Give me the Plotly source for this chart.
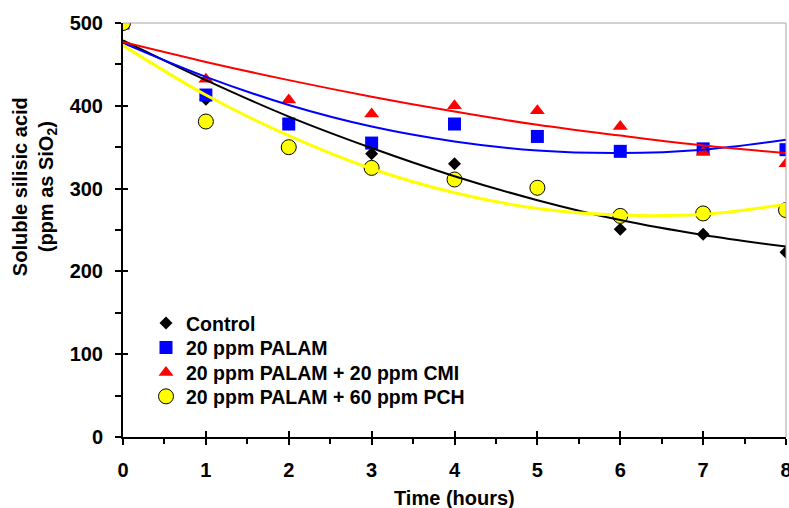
import plotly.graph_objects as go

# Sampling times (hours)
time_h = [0, 1, 2, 3, 4, 5, 6, 7, 8]

# Measured soluble silicic acid (ppm as SiO2)
control = [500, 408, 378, 342, 330, 300, 251, 245, 223]
palam = [500, 413, 378, 355, 378, 363, 345, 348, 347]
palam_cmi = [500, 432, 407, 390, 400, 394, 375, 344, 330]
palam_pch = [500, 381, 350, 325, 311, 301, 267, 270, 274]

# Trend lines at each hour
control_fit = [479, 431, 387, 349, 315, 286, 262, 244, 230]
palam_fit = [476, 435, 401, 375, 357, 346, 343, 347, 359]
palam_cmi_fit = [477, 453, 431, 411, 393, 377, 364, 352, 343]
palam_pch_fit = [473, 413, 364, 324, 295, 276, 268, 269, 281]

x_ticks = [0, 1, 2, 3, 4, 5, 6, 7, 8]
y_ticks = [0, 100, 200, 300, 400, 500]

FONT = 'Liberation Sans, Arial, sans-serif'

series = [
    ('Control', control, control_fit, 'diamond', 10, 'black', 2),
    ('20 ppm PALAM', palam, palam_fit, 'square', 13, '#0000FF', 2),
    ('20 ppm PALAM + 20 ppm CMI', palam_cmi, palam_cmi_fit, 'triangle-up', 13, '#FF0000', 2),
    ('20 ppm PALAM + 60 ppm PCH', palam_pch, palam_pch_fit, 'circle', 15, '#FFFF00', 3),
]

# one single-entry legend per series so the rows sit where the reference has them
legend_ids = ['legend', 'legend2', 'legend3', 'legend4']
legend_rows = [0.2746, 0.2157, 0.1553, 0.0974]

fig = go.Figure()

for (name, vals, fit, symbol, size, color, lw), lg in zip(series, legend_ids):
    outline = dict(color='black', width=1) if symbol == 'circle' else dict(color=color, width=0)
    fig.add_trace(go.Scatter(
        x=time_h, y=vals, mode='markers', name=name, legend=lg,
        marker=dict(symbol=symbol, size=size, color=color, line=outline),
    ))

for name, vals, fit, symbol, size, color, lw in series:
    fig.add_trace(go.Scatter(
        x=time_h, y=fit, mode='lines', showlegend=False, hoverinfo='skip',
        line=dict(color=color, width=lw, shape='spline'),
    ))

# dummy trace so the overlay axes (inner half of the crossing ticks) get drawn
fig.add_trace(go.Scatter(x=[0], y=[0], xaxis='x2', yaxis='y2', mode='markers',
                         marker=dict(opacity=0), showlegend=False, hoverinfo='skip'))

tick_font = dict(family=FONT, size=20, color='black', weight='bold')
legend_font = dict(family=FONT, size=19.5, color='black', weight='bold')

layout_legends = {}
for lg, row in zip(legend_ids, legend_rows):
    layout_legends[lg] = dict(
        x=0.0347, y=row, xanchor='left', yanchor='middle',
        bgcolor='rgba(0,0,0,0)', borderwidth=0, font=legend_font,
    )

fig.update_layout(
    width=789, height=508,
    margin=dict(l=123, r=3, t=23, b=71, autoexpand=False),
    paper_bgcolor='white', plot_bgcolor='white',
    font=dict(family=FONT, size=20, color='black'),
    xaxis=dict(
        range=[0, 8], tickvals=x_ticks, showgrid=False, zeroline=False,
        showline=True, linecolor='black', linewidth=2,
        ticks='outside', ticklen=6, tickwidth=2, tickcolor='black',
        minor=dict(dtick=0.5, ticks='outside', ticklen=5, tickwidth=2, tickcolor='black'),
        tickfont=tick_font, ticklabelstandoff=8, ticklabeloverflow='allow',
        automargin=False,
    ),
    yaxis=dict(
        range=[0, 500], tickvals=y_ticks, showgrid=False, zeroline=False,
        showline=True, linecolor='black', linewidth=2,
        ticks='outside', ticklen=6, tickwidth=2, tickcolor='black',
        minor=dict(dtick=50, ticks='outside', ticklen=6, tickwidth=2, tickcolor='black'),
        tickfont=tick_font, ticklabelstandoff=8, automargin=False,
    ),
    xaxis2=dict(
        range=[0, 8], tickvals=x_ticks, overlaying='x', anchor='y2',
        showgrid=False, zeroline=False, showline=False, showticklabels=False,
        ticks='inside', ticklen=6, tickwidth=2, tickcolor='black', automargin=False,
    ),
    yaxis2=dict(
        range=[0, 500], tickvals=y_ticks, overlaying='y', anchor='x2',
        showgrid=False, zeroline=False, showline=False, showticklabels=False,
        ticks='inside', ticklen=5, tickwidth=2, tickcolor='black', automargin=False,
    ),
    showlegend=True,
    **layout_legends,
)

# gray frame on top and right of the plot area
fig.add_shape(type='line', xref='x domain', yref='y domain', x0=0, x1=1, y0=1, y1=1,
              line=dict(color='#A6A6A6', width=1))
fig.add_shape(type='line', xref='x domain', yref='y domain', x0=1, x1=1, y0=0, y1=1,
              line=dict(color='#A6A6A6', width=1))

# axis titles
fig.add_annotation(
    text='Soluble silisic acid<br>(ppm as SiO<sub>2</sub>)',
    xref='paper', yref='paper', x=-0.1333, y=0.605, textangle=-90,
    showarrow=False, xanchor='center', yanchor='middle',
    font=dict(family=FONT, size=20, color='black', weight='bold'),
)
fig.add_annotation(
    text='Time (hours)',
    xref='paper', yref='paper', x=0.5, y=-0.148,
    showarrow=False, xanchor='center', yanchor='middle',
    font=dict(family=FONT, size=20, color='black', weight='bold'),
)

# drop the default page margin so the figure fills the window exactly
fig.write_html(
    'out.html',
    config={'displayModeBar': False},
    post_script="document.body.style.margin='0';document.body.style.overflow='hidden';",
)
